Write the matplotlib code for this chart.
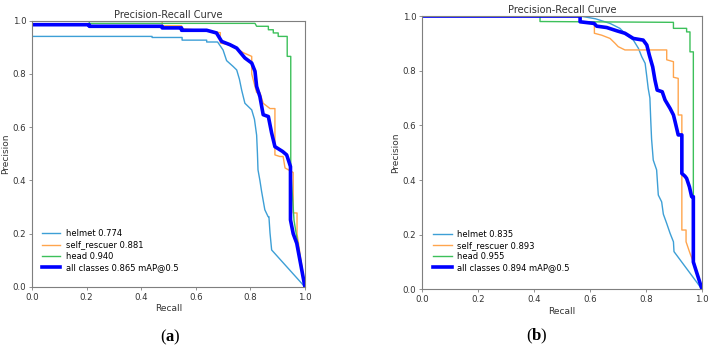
import matplotlib
matplotlib.use("Agg")
import matplotlib.pyplot as plt

plt.rcParams["mathtext.fontset"] = "custom"
plt.rcParams["mathtext.rm"] = "Liberation Serif"
plt.rcParams["mathtext.bf"] = "Liberation Serif:bold"

# ---- panel (a) ----
a_helmet_r = [0, 0.44, 0.44, 0.55, 0.55, 0.64, 0.64, 0.68, 0.69, 0.70, 0.713, 0.737, 0.75, 0.76,
              0.768, 0.78, 0.79, 0.805, 0.815, 0.823, 0.826, 0.828, 0.835, 0.841, 0.853, 0.865,
              0.868, 0.872, 0.878, 1.0]
a_helmet_p = [0.941, 0.941, 0.937, 0.937, 0.927, 0.927, 0.92, 0.92, 0.905, 0.89, 0.85, 0.828, 0.815, 0.78,
              0.74, 0.69, 0.68, 0.665, 0.63, 0.57, 0.50, 0.44, 0.40, 0.36, 0.29, 0.264,
              0.264, 0.203, 0.139, 0.0]
a_rescuer_r = [0, 0.477, 0.477, 0.548, 0.548, 0.64, 0.69, 0.69, 0.72, 0.75, 0.774, 0.805, 0.805, 0.823,
               0.835, 0.847, 0.872, 0.89, 0.89, 0.908, 0.92, 0.927, 0.957, 0.957, 0.971, 0.971, 1.0]
a_rescuer_p = [1.0, 1.0, 0.981, 0.981, 0.97, 0.962, 0.955, 0.916, 0.91, 0.895, 0.88, 0.866, 0.80, 0.73,
               0.73, 0.69, 0.67, 0.67, 0.496, 0.49, 0.49, 0.447, 0.43, 0.278, 0.278, 0.2, 0.0]
a_head_r = [0, 0.21, 0.21, 0.817, 0.823, 0.866, 0.866, 0.884, 0.884, 0.902, 0.902, 0.935, 0.935,
            0.948, 0.948, 0.96, 1.0]
a_head_p = [1.0, 1.0, 0.99, 0.99, 0.979, 0.979, 0.966, 0.966, 0.954, 0.954, 0.941, 0.941, 0.866,
            0.866, 0.44, 0.25, 0.0]
a_all_r = [0, 0.21, 0.21, 0.477, 0.477, 0.548, 0.548, 0.64, 0.676, 0.695, 0.725, 0.75, 0.78, 0.805,
           0.817, 0.823, 0.835, 0.847, 0.866, 0.878, 0.89, 0.918, 0.933, 0.943, 0.947, 0.947,
           0.957, 0.97, 1.0]
a_all_p = [0.985, 0.985, 0.979, 0.979, 0.973, 0.973, 0.964, 0.964, 0.954, 0.922, 0.91, 0.897, 0.86, 0.841,
           0.81, 0.753, 0.715, 0.647, 0.64, 0.578, 0.527, 0.509, 0.496, 0.465, 0.452, 0.252,
           0.2, 0.164, 0.0]
a_labels = ["helmet 0.774", "self_rescuer 0.881", "head 0.940", "all classes 0.865 mAP@0.5"]

# ---- panel (b) ----
b_helmet_r = [0, 0.565, 0.62, 0.672, 0.707, 0.731, 0.755, 0.773, 0.785, 0.797, 0.803, 0.808, 0.814,
              0.817, 0.82, 0.826, 0.838, 0.844, 0.856, 0.862, 0.874, 0.886, 0.898, 0.9, 1.0]
b_helmet_p = [1.0, 1.0, 0.99, 0.973, 0.955, 0.93, 0.912, 0.882, 0.851, 0.827, 0.778, 0.735, 0.70,
              0.62, 0.55, 0.473, 0.437, 0.345, 0.32, 0.275, 0.241, 0.205, 0.174, 0.138, 0.0]
b_rescuer_r = [0, 0.565, 0.565, 0.616, 0.616, 0.642, 0.672, 0.69, 0.701, 0.725, 0.874, 0.874, 0.898,
               0.898, 0.915, 0.915, 0.928, 0.928, 0.943, 0.943, 0.957, 0.969, 1.0]
b_rescuer_p = [1.0, 1.0, 0.979, 0.979, 0.937, 0.93, 0.918, 0.9, 0.888, 0.876, 0.876, 0.84, 0.833,
               0.776, 0.772, 0.638, 0.638, 0.217, 0.217, 0.174, 0.132, 0.10, 0.0]
b_head_r = [0, 0.422, 0.422, 0.898, 0.898, 0.945, 0.945, 0.957, 0.957, 0.969, 0.969, 1.0]
b_head_p = [1.0, 1.0, 0.98, 0.977, 0.955, 0.955, 0.942, 0.942, 0.869, 0.869, 0.107, 0.0]
b_all_r = [0, 0.565, 0.565, 0.615, 0.624, 0.66, 0.696, 0.725, 0.755, 0.79, 0.803, 0.812, 0.824, 0.832,
           0.84, 0.858, 0.868, 0.886, 0.898, 0.904, 0.915, 0.928, 0.928, 0.939, 0.945, 0.955,
           0.963, 0.969, 0.969, 1.0]
b_all_p = [1.0, 1.0, 0.979, 0.973, 0.963, 0.958, 0.946, 0.937, 0.918, 0.912, 0.894, 0.857, 0.814, 0.766,
           0.729, 0.723, 0.693, 0.662, 0.638, 0.613, 0.565, 0.565, 0.424, 0.414, 0.406, 0.375,
           0.339, 0.339, 0.10, 0.0]
b_labels = ["helmet 0.835", "self_rescuer 0.893", "head 0.955", "all classes 0.894 mAP@0.5"]

colors = ["#3d9fd6", "#ffa54d", "#3cc05a"]
spine_color = "#7f7f7f"
text_color = "#333333"


def draw_pr(ax, curves, labels, legend_anchor):
    for (r, p), c, lab in zip(curves[:3], colors, labels[:3]):
        ax.plot(r, p, color=c, linewidth=1, label=lab)
    r, p = curves[3]
    ax.plot(r, p, color="blue", linewidth=2.6, label=labels[3])
    ax.set_xlim(0, 1)
    ax.set_ylim(0, 1)
    ax.set_xticks([0, 0.2, 0.4, 0.6, 0.8, 1.0])
    ax.set_yticks([0, 0.2, 0.4, 0.6, 0.8, 1.0])
    ax.tick_params(labelsize=6.2, colors=text_color, length=2.5, width=0.6, color=spine_color, pad=1.5)
    for s in ax.spines.values():
        s.set_color(spine_color)
        s.set_linewidth(0.8)
    ax.set_xlabel("Recall", fontsize=6.5, color=text_color, labelpad=2)
    ax.set_ylabel("Precision", fontsize=6.5, color=text_color, labelpad=2)
    ax.set_title("Precision-Recall Curve", fontsize=7, color=text_color, pad=2)
    ax.legend(loc="lower left", bbox_to_anchor=legend_anchor, frameon=False, fontsize=6,
              labelspacing=0.25, handlelength=2.2, borderaxespad=0, handletextpad=0.7)


fig = plt.figure(figsize=(7.12, 3.49), dpi=100)
ax1 = fig.add_axes([0.0449, 0.1777, 0.3834, 0.763])
ax2 = fig.add_axes([0.5923, 0.171, 0.3937, 0.783])

draw_pr(ax1, [(a_helmet_r, a_helmet_p), (a_rescuer_r, a_rescuer_p), (a_head_r, a_head_p),
              (a_all_r, a_all_p)], a_labels, (0.025, 0.045))
draw_pr(ax2, [(b_helmet_r, b_helmet_p), (b_rescuer_r, b_rescuer_p), (b_head_r, b_head_p),
              (b_all_r, b_all_p)], b_labels, (0.029, 0.051))

fig.text(170 / 712, 1 - 337 / 349, r"$\mathrm{(}\mathbf{a}\mathrm{)}$", fontsize=12,
         ha="center", va="center", color="black")
fig.text(537 / 712, 1 - 336 / 349, r"$\mathrm{(}\mathbf{b}\mathrm{)}$", fontsize=12,
         ha="center", va="center", color="black")

fig.savefig("out.png", dpi=100, facecolor="white")
